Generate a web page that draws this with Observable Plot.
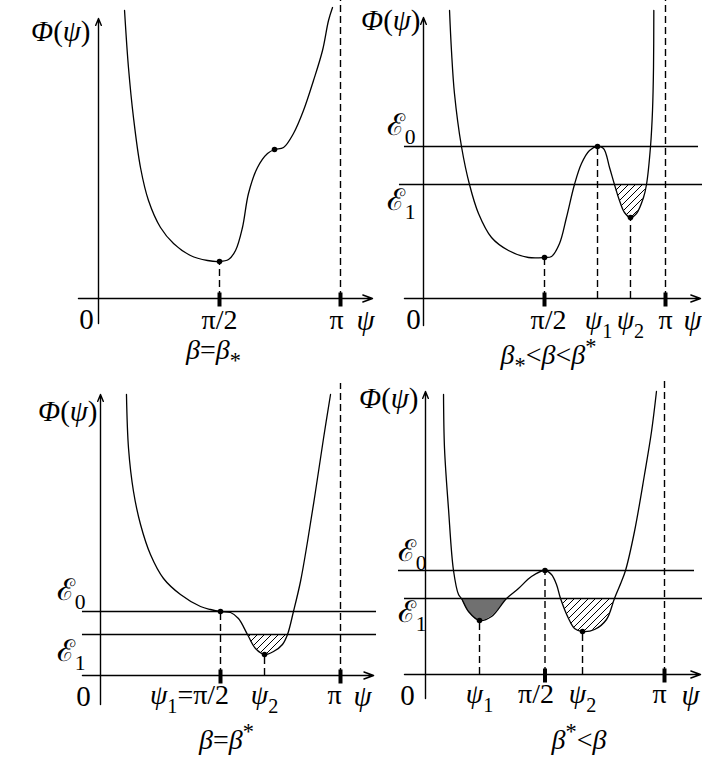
<!DOCTYPE html>
<html>
<head>
<meta charset="utf-8">
<script src="https://cdn.jsdelivr.net/npm/d3@7"></script>
<script src="https://cdn.jsdelivr.net/npm/@observablehq/plot@0.6"></script>
<style>
  body { margin: 0; background: #fff; }
  #figure { position: relative; width: 702px; height: 762px; overflow: hidden; background: #fff; }
  #figure svg { position: absolute; overflow: visible; }
</style>
</head>
<body>
<div id="figure"></div>
<script>
const PI = Math.PI;

// ---- Panel A: β = β_* (single minimum with a shoulder) ----
const psiA = [0.338, 0.389, 0.454, 0.545, 0.649, 0.805, 0.974, 1.194, 1.415, PI / 2, 1.688, 1.779, 1.869, 1.947, 2.064, 2.194, 2.285, 2.402, 2.531, 2.661, 2.791, 2.908, 2.986, 3.038];
const phiA = [28.8, 23.1, 18.1, 13.1, 9.8, 7.1, 5.5, 4.3, 3.8, 3.7, 3.9, 4.8, 7.1, 10.5, 13.1, 14.5, 14.9, 15.1, 16.5, 18.8, 21.8, 24.8, 27.8, 29.1];
const extPsiA = [PI / 2];
const extPhiA = [3.7];
const shoulderPsiA = [2.285];
const shoulderPhiA = [14.9];
const tickPsiA = [PI / 2, PI];
const tickTextA = ["π/2", "π"];
const captionA = "β=β_*";

// ---- Panel B: β_* < β < β^* ----
const psiB = [0.338, 0.363, 0.402, 0.493, 0.597, 0.714, 0.883, 1.103, 1.363, PI / 2, 1.662, 1.766, 1.856, 1.960, 2.051, 2.155, 2.259, 2.337, 2.415, 2.479, 2.544, 2.609, 2.687, 2.765, 2.856, 2.895, 2.947, 2.973, 2.986, 2.990];
const phiB = [28.8, 24.8, 20.5, 15.2, 11.4, 8.5, 6.1, 4.8, 4.1, 4.1, 4.2, 5.5, 8.1, 11.4, 13.5, 14.8, 15.2, 15.0, 13.1, 11.4, 9.8, 8.6, 8.1, 8.5, 10.1, 11.4, 15.2, 18.8, 23.1, 28.8];
const levelsB = [15.2, 11.4];
const levelTextB = ["ℰ_0", "ℰ_1"];
const extPsiB = [PI / 2, 2.259, 2.687];
const extPhiB = [4.1, 15.2, 8.1];
const wellB = [2.479, 2.895];
const tickPsiB = [PI / 2, 2.259, 2.687, PI];
const tickTextB = ["π/2", "ψ_1", "ψ_2", "π"];
const captionB = "β_*<β<β^*";

// ---- Panel C: β = β^* ----
const psiC = [0.340, 0.367, 0.432, 0.524, 0.654, 0.825, 1.047, 1.309, 1.440, PI / 2, 1.702, 1.806, 1.924, 2.029, 2.147, 2.265, 2.382, 2.448, 2.526, 2.618, 2.710, 2.814, 2.919, 3.011];
const phiC = [28.1, 22.7, 18.4, 15.1, 12.1, 9.7, 8.1, 6.9, 6.6, 6.4, 6.3, 5.7, 4.1, 2.7, 2.1, 2.4, 3.1, 4.1, 6.4, 9.4, 13.4, 18.4, 23.7, 28.1];
const levelsC = [6.4, 4.1];
const levelTextC = ["ℰ_0", "ℰ_1"];
const extPsiC = [PI / 2, 2.147];
const extPhiC = [6.4, 2.1];
const wellC = [1.924, 2.448];
const tickPsiC = [PI / 2, 2.147, PI];
const tickTextC = ["ψ_1=π/2", "ψ_2", "π"];
const captionC = "β=β^*";

// ---- Panel D: β^* < β (two wells) ----
const psiD = [0.237, 0.250, 0.302, 0.368, 0.434, 0.473, 0.565, 0.710, 0.868, 1.065, 1.222, 1.393, PI / 2, 1.656, 1.722, 1.775, 1.880, 1.959, 2.064, 2.222, 2.379, 2.484, 2.576, 2.629, 2.747, 2.879, 2.971, 3.036];
const phiD = [28.0, 22.6, 16.6, 10.4, 8.0, 7.6, 6.3, 5.4, 5.8, 7.6, 8.6, 9.8, 10.4, 10.0, 9.0, 7.6, 5.6, 4.6, 4.3, 4.5, 5.5, 7.6, 9.3, 10.4, 14.3, 20.0, 24.3, 28.3];
const levelsD = [10.4, 7.6];
const levelTextD = ["ℰ_0", "ℰ_1"];
const extPsiD = [0.710, PI / 2, 2.064];
const extPhiD = [5.4, 10.4, 4.3];
const wellLeftD = [0.473, 1.065];
const wellRightD = [1.775, 2.484];
const tickPsiD = [0.710, PI / 2, 2.064, PI];
const tickTextD = ["ψ_1", "π/2", "ψ_2", "π"];
const captionD = "β^*<β";

// Thick axis ticks sit at π/2 and π in every panel
const boldTicks = [PI / 2, PI];

const serif = "'Liberation Serif', 'DejaVu Serif', serif";
const hatchFill = (id) => `url(#${id})`;

// Black bar drawn across the ψ axis
const barSymbol = { draw(ctx) { ctx.rect(-2, -6, 4, 14); } };

const panels = [
  {
    id: "A", left: 0, top: 0,
    psi: psiA, phi: phiA, extPsi: extPsiA, extPhi: extPhiA,
    extraDots: shoulderPsiA.map((psi, i) => ({ psi, phi: shoulderPhiA[i] })),
    levels: [], levelText: [], wells: [],
    ticks: tickPsiA, tickText: tickTextA, tickDx: [0, -4], caption: captionA,
    layout: {
      xRange: [98, 340], axisY: 298, yTop: 29.8, piTop: 29.8,
      xAxis: [-0.26, 3.557], yAxis: [-2.5, 28.0],
      phiLabel: { dx: -8, dy: 13 }, zero: { dx: -12, dy: 21 }, psiName: { dx: 25, dy: 22 },
      tickDy: 22, caption: { dx: -6, dy: 52 },
      levelSpan: [], levelLabel: []
    }
  },
  {
    id: "B", left: 351, top: 0,
    psi: psiB, phi: phiB, extPsi: extPsiB, extPhi: extPhiB, extraDots: [],
    levels: levelsB, levelText: levelTextB,
    wells: [{ from: wellB[0], to: wellB[1], level: levelsB[1], fill: hatchFill("hatchB") }],
    ticks: tickPsiB, tickText: tickTextB, tickDx: [4, 1, 0, 0], caption: captionB,
    layout: {
      xRange: [72, 314], axisY: 298, yTop: 29.8, piTop: 29.8,
      xAxis: [-0.247, 3.596], yAxis: [-2.7, 28.1],
      phiLabel: { dx: -3, dy: 3 }, zero: { dx: -10, dy: 21 }, psiName: { dx: 27, dy: 22 },
      tickDy: 22, caption: { dx: 4, dy: 57 },
      levelSpan: [[-0.247, 3.570], [-0.312, 3.65]],
      levelLabel: [{ dx: -8, dy: -21 }, { dx: -8, dy: 16 }]
    }
  },
  {
    id: "C", left: 0, top: 381,
    psi: psiC, phi: phiC, extPsi: extPsiC, extPhi: extPhiC, extraDots: [],
    levels: levelsC, levelText: levelTextC,
    wells: [{ from: wellC[0], to: wellC[1], level: levelsC[1], fill: hatchFill("hatchC") }],
    ticks: tickPsiC, tickText: tickTextC, tickDx: [-31, 0, -6], caption: captionC,
    layout: {
      xRange: [100, 340], axisY: 294, yTop: 29.4, piTop: 29.2,
      xAxis: [-0.236, 3.575], yAxis: [-2.9, 28.1],
      phiLabel: { dx: -3, dy: 17 }, zero: { dx: -17, dy: 21 }, psiName: { dx: 22, dy: 21 },
      tickDy: 20, caption: { dx: 6, dy: 65 },
      levelSpan: [[-0.236, 3.613], [-0.236, 3.613]],
      levelLabel: [{ dx: -15, dy: -21 }, { dx: -15, dy: 17 }]
    }
  },
  {
    id: "D", left: 351, top: 381,
    psi: psiD, phi: phiD, extPsi: extPsiD, extPhi: extPhiD, extraDots: [],
    levels: levelsD, levelText: levelTextD,
    wells: [
      { from: wellLeftD[0], to: wellLeftD[1], level: levelsD[1], fill: "#707070" },
      { from: wellRightD[0], to: wellRightD[1], level: levelsD[1], fill: hatchFill("hatchD") }
    ],
    ticks: tickPsiD, tickText: tickTextD, tickDx: [0, -9, 0, -5], caption: captionD,
    layout: {
      xRange: [74, 313], axisY: 293, yTop: 29.3, piTop: 29.3,
      xAxis: [-0.276, 3.615], yAxis: [-2.4, 28.3],
      phiLabel: { dx: -7, dy: 7 }, zero: { dx: -18, dy: 21 }, psiName: { dx: 26, dy: 21 },
      tickDy: 20, caption: { dx: 34, dy: 66 },
      levelSpan: [[-0.355, 3.536], [-0.276, 3.65]],
      levelLabel: [{ dx: 1, dy: -19 }, { dx: 1, dy: 14 }]
    }
  }
];

function drawPanel(p) {
  const L = p.layout;
  const curve = p.psi.map((psi, i) => ({ psi, phi: p.phi[i] }));
  const ext = p.extPsi.map((psi, i) => ({ psi, phi: p.extPhi[i] }));
  const line = { stroke: "black", strokeWidth: 1.4 };
  const txt = { fontFamily: serif, fill: "black" };
  const marks = [];

  // Shaded parts of the wells below ℰ1
  for (const w of p.wells) {
    const seg = curve.filter((c) => c.psi >= w.from - 1e-6 && c.psi <= w.to + 1e-6);
    marks.push(Plot.areaY(seg, { x: "psi", y1: "phi", y2: () => w.level, curve: "catmull-rom", fill: w.fill }));
  }

  // Energy levels ℰ0 and ℰ1
  if (p.levels.length) {
    marks.push(Plot.ruleY(p.levels, {
      y: (v) => v, x1: (v, i) => L.levelSpan[i][0], x2: (v, i) => L.levelSpan[i][1], ...line
    }));
  }

  // Dashed drop lines from the extrema and the ψ = π asymptote
  marks.push(Plot.ruleX(ext, { x: "psi", y1: () => 0, y2: "phi", strokeDasharray: "7,4", ...line }));
  marks.push(Plot.ruleX([PI], { x: (v) => v, y1: () => 0, y2: () => L.piTop, strokeDasharray: "7,4", ...line }));

  // Axes with open arrowheads
  marks.push(Plot.arrow([0], {
    x1: () => L.xAxis[0], x2: () => L.xAxis[1], y1: () => 0, y2: () => 0,
    headLength: 11, headAngle: 40, ...line
  }));
  marks.push(Plot.arrow([0], {
    x1: () => 0, x2: () => 0, y1: () => L.yAxis[0], y2: () => L.yAxis[1],
    headLength: 8, headAngle: 45, ...line
  }));

  // Potential Φ(ψ)
  marks.push(Plot.line(curve, { x: "psi", y: "phi", curve: "catmull-rom", stroke: "black", strokeWidth: 1.3 }));

  // Marked extrema
  marks.push(Plot.dot(ext.concat(p.extraDots), { x: "psi", y: "phi", r: 2.8, fill: "black", stroke: "none" }));

  // Bold ticks at π/2 and π
  marks.push(Plot.dot(boldTicks, { x: (v) => v, y: () => 0, symbol: barSymbol, fill: "black", stroke: "none" }));

  // Axis name Φ(ψ)
  marks.push(Plot.text(["Φ(ψ)"], {
    x: () => 0, y: () => L.yAxis[1], text: (d) => d, textAnchor: "end",
    dx: L.phiLabel.dx, dy: L.phiLabel.dy, fontSize: 29, ...txt
  }));

  // Origin and ψ axis name
  marks.push(Plot.text(["0"], { x: () => 0, y: () => 0, text: (d) => d, dx: L.zero.dx, dy: L.zero.dy, fontSize: 29, ...txt }));
  marks.push(Plot.text(["ψ"], { x: () => PI, y: () => 0, text: (d) => d, dx: L.psiName.dx, dy: L.psiName.dy, fontSize: 29, ...txt }));

  // Tick labels
  p.ticks.forEach((t, i) => {
    marks.push(Plot.text([p.tickText[i]], {
      x: () => t, y: () => 0, text: (d) => d, dx: p.tickDx[i], dy: L.tickDy, fontSize: 28, ...txt
    }));
  });

  // Level labels ℰ0, ℰ1
  p.levels.forEach((v, i) => {
    marks.push(Plot.text([p.levelText[i]], {
      x: () => 0, y: () => v, text: (d) => d, textAnchor: "end",
      dx: L.levelLabel[i].dx, dy: L.levelLabel[i].dy, fontSize: 30, ...txt
    }));
  });

  // Parameter range caption
  marks.push(Plot.text([p.caption], {
    x: () => PI / 2, y: () => 0, text: (d) => d, dx: L.caption.dx, dy: L.caption.dy, fontSize: 28, ...txt
  }));

  const svg = Plot.plot({
    width: 351, height: 381, margin: 0,
    x: { domain: [0, PI], range: L.xRange, axis: null },
    y: { domain: [0, L.yTop], range: [L.axisY, 0], axis: null },
    marks
  });
  svg.style.left = p.left + "px";
  svg.style.top = p.top + "px";
  svg.style.background = "transparent";
  svg.style.overflow = "visible";
  svg.style.maxWidth = "none";

  // Diagonal hatching used inside the wells
  const ns = "http://www.w3.org/2000/svg";
  const defs = document.createElementNS(ns, "defs");
  const pat = document.createElementNS(ns, "pattern");
  pat.setAttribute("id", "hatch" + p.id);
  pat.setAttribute("patternUnits", "userSpaceOnUse");
  pat.setAttribute("width", "7");
  pat.setAttribute("height", "7");
  const path = document.createElementNS(ns, "path");
  path.setAttribute("d", "M-1,1 l2,-2 M0,7 l7,-7 M6,8 l2,-2");
  path.setAttribute("stroke", "black");
  path.setAttribute("stroke-width", "1");
  pat.appendChild(path);
  defs.appendChild(pat);
  svg.insertBefore(defs, svg.firstChild);
  return svg;
}

// Turn "_x" / "^x" into sub/superscripts and italicise Greek variables
function richText(svg) {
  const ns = "http://www.w3.org/2000/svg";
  for (const t of svg.querySelectorAll("text")) {
    const s = t.textContent;
    if (!/[_^Φψβℰ]/.test(s)) continue;
    const fs = parseFloat(getComputedStyle(t).fontSize) || 22;
    t.textContent = "";
    let shift = 0;
    for (let i = 0; i < s.length; i++) {
      let ch = s[i], level = 0;
      if ((ch === "_" || ch === "^") && i + 1 < s.length) {
        level = ch === "_" ? 0.3 : -0.36;
        ch = s[++i];
      }
      const ts = document.createElementNS(ns, "tspan");
      ts.textContent = ch;
      if (/[Φψβ]/.test(ch)) ts.setAttribute("font-style", "italic");
      if (level) ts.setAttribute("font-size", (fs * (ch === "*" ? 0.8 : 0.72)).toFixed(1));
      if (level !== shift) {
        ts.setAttribute("dy", ((level - shift) * fs).toFixed(1));
        shift = level;
      }
      t.appendChild(ts);
    }
  }
}

const figure = document.getElementById("figure");
for (const p of panels) {
  const svg = drawPanel(p);
  figure.appendChild(svg);
  richText(svg);
}
</script>
</body>
</html>
